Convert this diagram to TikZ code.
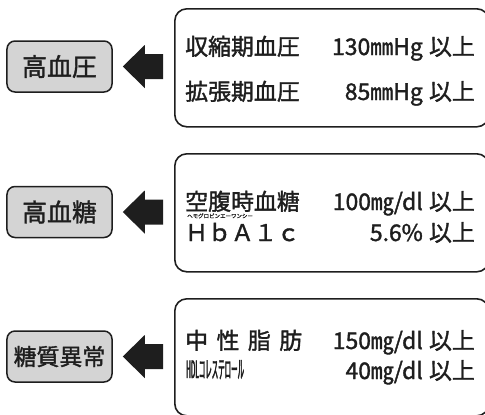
\documentclass[tikz,border=0pt]{standalone}
\usepackage{fontspec}
\setmainfont{Noto Sans CJK JP}[FakeBold=1.5]
\newfontfamily\narrowjp{Noto Sans CJK JP}[FakeStretch=0.27,FakeBold=1.5]
\usetikzlibrary{calc}
\definecolor{tagfill}{RGB}{212,212,212}
\definecolor{ink}{RGB}{30,30,30}
\tikzset{
  bigbox/.style={draw=ink, line width=1.6bp, rounded corners=12bp, minimum width=314bp, minimum height=118bp, anchor=north west, inner sep=0pt},
  tagbox/.style={draw=ink, fill=tagfill, line width=1.5bp, rounded corners=8bp, minimum width=105bp, minimum height=51bp, inner sep=0pt, text=ink},
  arrowfill/.style={fill=ink},
  lbl/.style={anchor=base west, inner sep=0pt, text=ink, font=\fontsize{23}{26}\selectfont},
  val/.style={anchor=base east, inner sep=0pt, text=ink, font=\fontsize{23}{26}\selectfont},
}
\begin{document}
\begin{tikzpicture}[x=1bp,y=-1bp]
\useasboundingbox (0,0) rectangle (485,414);
\clip (0,0) rectangle (485,414);
% big boxes
\node[bigbox] (b1) at (174,8) {};
\node[bigbox] (b2) at (174,153) {};
\node[bigbox, minimum height=117bp] (b3) at (174,298) {};
% tags
\node[tagbox, font=\fontsize{25}{28}\selectfont] (t1) at (59.5,66.5) {高血圧};
\node[tagbox, font=\fontsize{25}{28}\selectfont] (t2) at (59.5,212) {高血糖};
\node[tagbox, font=\fontsize{23}{26}\selectfont] (t3) at (59.5,356.5) {糖質異常};
% arrows
\foreach \t/\b in {t1/b1,t2/b2,t3/b3}{
  \fill[arrowfill] ($(\t.east)+(10,0)$) -- ++(22,-21.5) -- ++(0,9) -- ($(\b.west |- \t.east)+(-11,-12.5)$) -- ++(0,25) -- ($(\t.east)+(32,12.5)$) -- ++(0,9) -- cycle;
}
% box 1 texts
\node[lbl] (l11) at (185,55) {収縮期血圧};
\node[val] (v11) at (423,55) {130㎜Hg};
\node[val] (u11) at (475,55) {以上};
\node[lbl] (l12) at (185,100) {拡張期血圧};
\node[val] (v12) at (423,100) {85㎜Hg};
\node[val] (u12) at (475,100) {以上};
% box 2 texts
\node[lbl] (l21) at (185,210) {空腹時血糖};
\node[val] (v21) at (423,210) {100㎎/dl};
\node[val] (u21) at (475,210) {以上};
\node[anchor=base west, inner sep=0pt, text=ink, font=\fontsize{5.5}{6}\selectfont] (r22) at (187,218) {ヘモグロビンエーワンシー};
\node[lbl] (l22) at (185,241) {ＨｂＡ１ｃ};
\node[val] (v22) at (423,241) {5.6\%};
\node[val] (u22) at (475,241) {以上};
% box 3 texts
\node[lbl] (l31) at (185,349) {\makebox[117bp][l]{中\hfill 性\hfill 脂\hfill 肪}};
\node[val] (v31) at (423,349) {150㎎/dl};
\node[val] (u31) at (475,349) {以上};
\node[anchor=base west, inner sep=0pt, text=ink, font=\narrowjp\fontsize{24}{26}\selectfont] (l32) at (186,378) {HDLコレステロール};
\node[val] (v32) at (423,379) {40㎎/dl};
\node[val] (u32) at (475,379) {以上};
\end{tikzpicture}
\end{document}
